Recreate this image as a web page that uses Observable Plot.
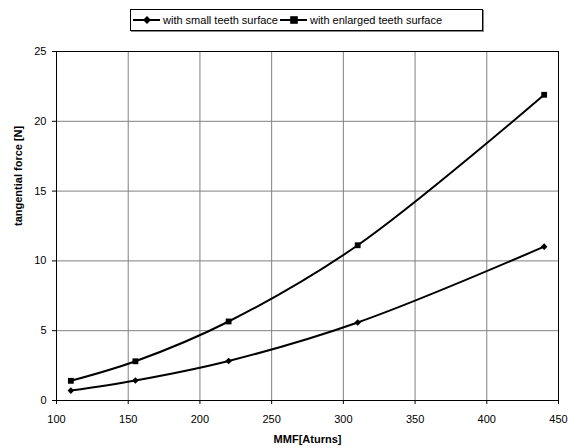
<!DOCTYPE html>
<html>
<head>
<meta charset="utf-8">
<script src="https://cdn.jsdelivr.net/npm/d3@7"></script>
<script src="https://cdn.jsdelivr.net/npm/@observablehq/plot@0.6"></script>
<style>
  html, body { margin: 0; padding: 0; background: #fff; }
  body { width: 568px; height: 448px; overflow: hidden; font-family: "Liberation Sans", Arial, sans-serif; }
  #legend { position: relative; height: 40px; }
  #legend .box { position: absolute; left: 130px; top: 9px; width: 351px; height: 20px; border: 1px solid #000;
    box-shadow: 1px 1px 0 #888; display: flex; align-items: center; font-size: 11px; white-space: nowrap; }
  #legend .item { display: flex; align-items: center; flex-shrink: 0; }
  #legend .item:first-child { margin-left: 2px; }
  #legend .item + .item { margin-left: 2px; }
  #legend svg { display: block; flex-shrink: 0; margin-right: 3px; }
  #chart svg { display: block; }
</style>
</head>
<body>
<div id="legend"><div class="box"></div></div>
<div id="chart"></div>
<script>
const mmf = [110, 155, 220, 310, 440];
const smallTeeth = [0.71, 1.43, 2.83, 5.59, 11.02];
const enlargedTeeth = [1.41, 2.81, 5.66, 11.12, 21.9];
const seriesNames = ["with small teeth surface", "with enlarged teeth surface"];
const seriesSymbols = ["diamond2", "square"];
const xTicks = [100, 150, 200, 250, 300, 350, 400, 450];
const yTicks = [0, 5, 10, 15, 20, 25];
const xLabel = "MMF[Aturns]";
const yLabel = "tangential force [N]";

const rows = [];
[smallTeeth, enlargedTeeth].forEach((vals, si) => {
  vals.forEach((v, i) => rows.push({series: seriesNames[si], x: mmf[i], y: v}));
});

// Legend
const box = document.querySelector("#legend .box");
seriesNames.forEach((name, i) => {
  const item = document.createElement("div");
  item.className = "item";
  const ns = "http://www.w3.org/2000/svg";
  const s = document.createElementNS(ns, "svg");
  s.setAttribute("width", 27); s.setAttribute("height", 12);
  const line = document.createElementNS(ns, "line");
  line.setAttribute("x1", 0); line.setAttribute("x2", 27);
  line.setAttribute("y1", 6); line.setAttribute("y2", 6);
  line.setAttribute("stroke", "#000"); line.setAttribute("stroke-width", 2);
  s.appendChild(line);
  const p = document.createElementNS(ns, "path");
  const sym = i === 0 ? d3.symbolDiamond2 : d3.symbolSquare;
  const r = i === 0 ? 3.6 : 4.3;
  p.setAttribute("d", d3.symbol(sym, r * r * Math.PI)());
  p.setAttribute("transform", "translate(14,6)");
  p.setAttribute("fill", "#000");
  s.appendChild(p);
  item.appendChild(s);
  const t = document.createElement("span");
  t.textContent = name;
  item.appendChild(t);
  box.appendChild(item);
});

const chart = Plot.plot({
  width: 568,
  height: 408,
  marginTop: 11,
  marginBottom: 48,
  marginLeft: 56,
  marginRight: 10,
  style: {fontFamily: "Liberation Sans, Arial, sans-serif", fontSize: "11px", color: "#000", background: "#fff"},
  x: {domain: [100, 450], ticks: xTicks, label: null, tickSize: 4, tickPadding: 11},
  y: {domain: [0, 25], ticks: yTicks, label: null, tickSize: 4, tickPadding: 6},
  symbol: {domain: seriesNames, range: seriesSymbols},
  marks: [
    Plot.gridX(xTicks, {stroke: "#808080", strokeOpacity: 1}),
    Plot.gridY(yTicks, {stroke: "#808080", strokeOpacity: 1}),
    Plot.frame({stroke: "#000", strokeWidth: 1}),
    Plot.axisX({ticks: xTicks, tickSize: 4, tickPadding: 11, label: null}),
    Plot.axisY({ticks: yTicks, tickSize: 4, tickPadding: 6, label: null}),
    Plot.line(rows, {x: "x", y: "y", z: "series", stroke: "#000", strokeWidth: 2, curve: "catmull-rom"}),
    Plot.dot(rows, {x: "x", y: "y", symbol: "series", fill: "#000", stroke: null,
      r: d => d.series === seriesNames[0] ? 3.5 : 4.2}),
    Plot.text([yLabel], {frameAnchor: "left", dx: -38, rotate: -90, fontWeight: "bold", fontSize: 11, text: d => d}),
    Plot.text([xLabel], {frameAnchor: "bottom", dy: 42, fontWeight: "bold", fontSize: 11, text: d => d})
  ]
});
document.getElementById("chart").appendChild(chart);
</script>
</body>
</html>
